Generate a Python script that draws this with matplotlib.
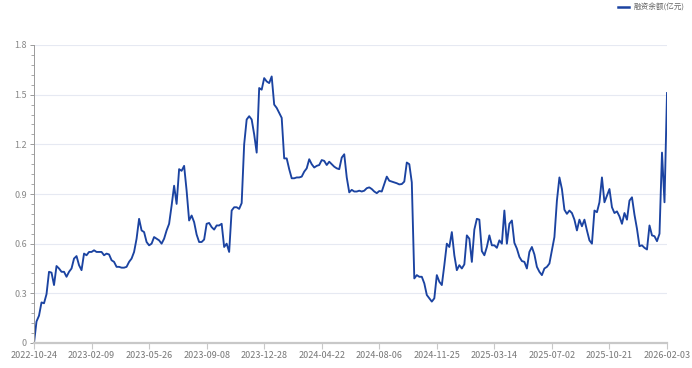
import matplotlib.pyplot as plt
from matplotlib.ticker import MultipleLocator, FuncFormatter

plt.rcParams['font.family'] = ['Noto Sans CJK SC', 'DejaVu Sans']

# -------------------------
# DATA (one value per trading-day step, 23 steps between labels)
# -------------------------
series_name = "融资余额(亿元)"

tick_labels = [
    "2022-10-24", "2023-02-09", "2023-05-26", "2023-09-08",
    "2023-12-28", "2024-04-22", "2024-08-06", "2024-11-25",
    "2025-03-14", "2025-07-02", "2025-10-21", "2026-02-03",
]

balance = [
    0.0, 0.13, 0.165, 0.245, 0.24, 0.295, 0.43, 0.425, 0.35, 0.465, 0.45, 0.43,
    0.43, 0.40, 0.43, 0.45, 0.51, 0.525, 0.47, 0.44, 0.54, 0.53, 0.55,
    0.55, 0.56, 0.55, 0.55, 0.55, 0.53, 0.54, 0.535, 0.50, 0.49, 0.46, 0.46,
    0.455, 0.455, 0.46, 0.49, 0.51, 0.55, 0.63, 0.75, 0.68, 0.67, 0.61,
    0.59, 0.60, 0.64, 0.63, 0.62, 0.60, 0.63, 0.68, 0.72, 0.83, 0.95, 0.84,
    1.05, 1.04, 1.07, 0.92, 0.74, 0.77, 0.73, 0.655, 0.61, 0.61, 0.625,
    0.72, 0.725, 0.70, 0.685, 0.71, 0.71, 0.72, 0.58, 0.60, 0.55, 0.80, 0.82,
    0.82, 0.81, 0.845, 1.2, 1.35, 1.37, 1.35, 1.26, 1.15, 1.54, 1.53,
    1.60, 1.58, 1.57, 1.61, 1.44, 1.42, 1.39, 1.36, 1.115, 1.115, 1.05, 0.995,
    0.995, 1.0, 1.0, 1.005, 1.035, 1.055, 1.11, 1.08, 1.06, 1.07, 1.075,
    1.105, 1.10, 1.075, 1.095, 1.08, 1.065, 1.055, 1.05, 1.12, 1.14, 1.00, 0.91,
    0.925, 0.915, 0.915, 0.92, 0.915, 0.92, 0.935, 0.94, 0.93, 0.915, 0.905,
    0.918, 0.915, 0.96, 1.005, 0.98, 0.975, 0.97, 0.965, 0.958, 0.96, 0.975,
    1.09, 1.08, 0.97, 0.39, 0.41, 0.40, 0.40, 0.36, 0.29, 0.27, 0.25, 0.27,
    0.41, 0.37, 0.35, 0.47, 0.60, 0.58, 0.67, 0.53, 0.44, 0.47, 0.45, 0.475,
    0.65, 0.63, 0.49, 0.685, 0.75, 0.745, 0.555, 0.53, 0.58, 0.65, 0.59,
    0.59, 0.575, 0.62, 0.60, 0.80, 0.60, 0.72, 0.74, 0.605, 0.57, 0.52, 0.495,
    0.49, 0.45, 0.55, 0.58, 0.535, 0.46, 0.43, 0.41, 0.45, 0.46, 0.48,
    0.56, 0.64, 0.86, 1.0, 0.93, 0.805, 0.78, 0.80, 0.785, 0.745, 0.68, 0.745,
    0.705, 0.745, 0.68, 0.62, 0.60, 0.80, 0.79, 0.85, 1.0, 0.85, 0.89,
    0.93, 0.82, 0.785, 0.795, 0.765, 0.72, 0.785, 0.745, 0.86, 0.88, 0.775, 0.69,
    0.585, 0.59, 0.575, 0.565, 0.71, 0.65, 0.645, 0.615, 0.66, 1.15, 0.85, 1.51,
]

# -------------------------
# PLOT
# -------------------------
fig = plt.figure(figsize=(6.92, 3.68), dpi=100)
ax = fig.add_axes([34 / 692, 25 / 368, 633 / 692, 298 / 368])

x = list(range(len(balance)))
ax.plot(x, balance, color='#1b43a1', lw=1.35, label=series_name)

ax.set_xlim(0, len(balance) - 1)
ax.set_ylim(0, 1.8)

step = (len(balance) - 1) // (len(tick_labels) - 1)
ax.set_xticks(list(range(0, len(balance), step)))
ax.set_xticklabels(tick_labels)

ax.yaxis.set_major_locator(MultipleLocator(0.3))
ax.yaxis.set_minor_locator(MultipleLocator(0.06))
ax.yaxis.set_major_formatter(FuncFormatter(lambda v, p: f"{round(v, 1):g}"))

ax.grid(axis='y', color='#e6e9f2', lw=0.8)
ax.set_axisbelow(True)

for side in ('top', 'right'):
    ax.spines[side].set_visible(False)
ax.spines['left'].set_color('#9a9a9a')
ax.spines['left'].set_linewidth(0.7)
ax.spines['bottom'].set_color('#c8c8c8')
ax.spines['bottom'].set_linewidth(1.6)

ax.tick_params(axis='x', colors='#c8c8c8', labelcolor='#777777', labelsize=6.5,
               length=4, width=0.8, pad=2)
ax.tick_params(axis='y', which='major', colors='#9a9a9a', labelcolor='#888888',
               labelsize=6.5, length=3, width=0.7, pad=2)
ax.tick_params(axis='y', which='minor', colors='#9a9a9a', length=2, width=0.6)

leg = fig.legend(loc='upper right', bbox_to_anchor=(0.997, 1.005), frameon=False,
                 fontsize=5.5, handlelength=1.5, handletextpad=0.6,
                 borderaxespad=0.3)
for line in leg.get_lines():
    line.set_linewidth(1.8)
for t in leg.get_texts():
    t.set_color('#666666')

fig.savefig('out.png', dpi=100)
